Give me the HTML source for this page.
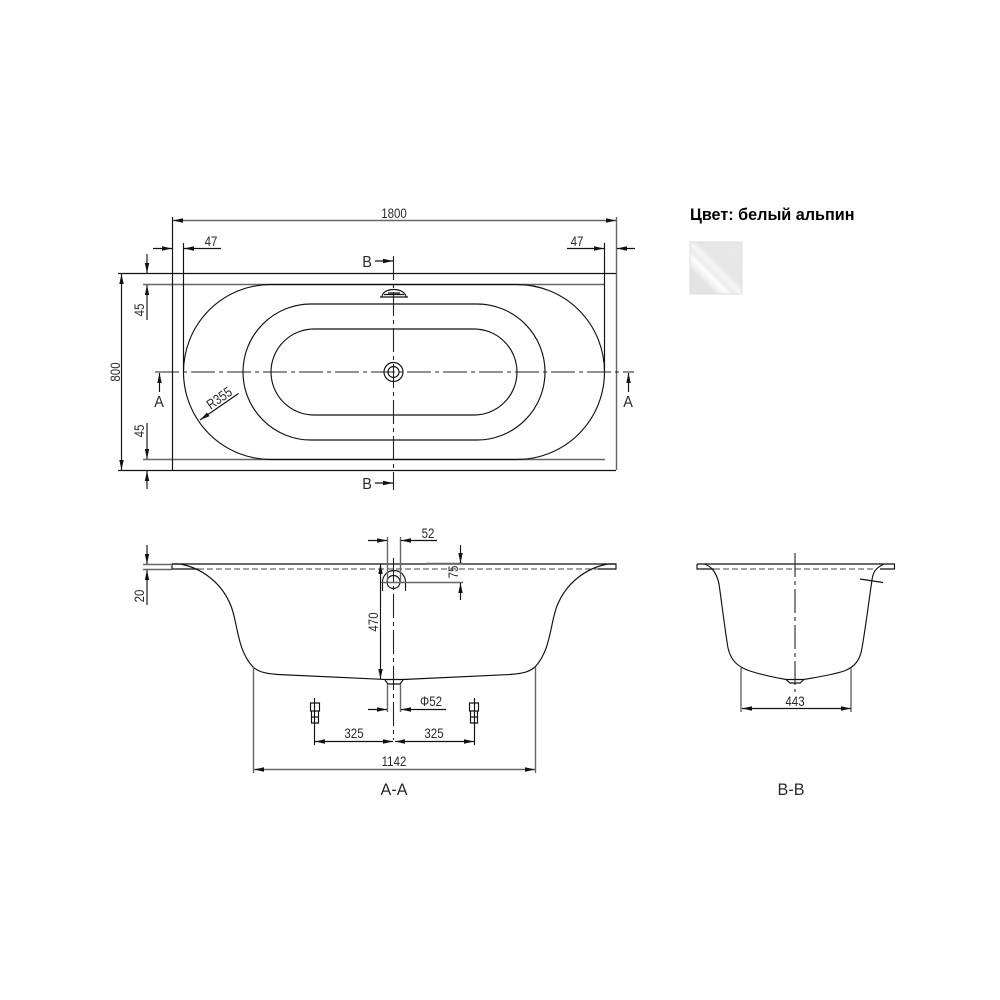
<!DOCTYPE html>
<html><head><meta charset="utf-8"><style>
html,body{margin:0;padding:0;background:#fff;width:1000px;height:1000px;overflow:hidden}
svg{display:block}
text{font-family:"Liberation Sans","Noto Sans CJK SC",sans-serif;fill:#2a2a2a;text-anchor:middle;font-size:14px}
.k{stroke:#111;stroke-width:1.15;fill:none}
.g{stroke:#666;stroke-width:1.4;fill:none}
.c{stroke:#222;stroke-width:1.1;fill:none;stroke-dasharray:24 4 4 4}
.d{stroke:#444;stroke-width:1.1;fill:none;stroke-dasharray:6 3}
.a{fill:#111;stroke:none}
</style></head><body>
<svg width="1000" height="1000" viewBox="0 0 1000 1000" xmlns="http://www.w3.org/2000/svg">
<defs>
<marker id="e" markerUnits="userSpaceOnUse" markerWidth="11" markerHeight="6" refX="10" refY="3" orient="auto"><path d="M0 0.8L10 3L0 5.2Z" class="a"/></marker>
<marker id="s" markerUnits="userSpaceOnUse" markerWidth="11" markerHeight="6" refX="0" refY="3" orient="auto"><path d="M10 0.8L0 3L10 5.2Z" class="a"/></marker>
<linearGradient id="sw" x1="0" y1="1" x2="1" y2="0">
<stop offset="0" stop-color="#e4e4e4"/><stop offset=".24" stop-color="#e3e3e3"/><stop offset=".36" stop-color="#fdfdfd"/><stop offset=".43" stop-color="#ececec"/><stop offset=".49" stop-color="#f6f6f6"/><stop offset=".58" stop-color="#e6e6e6"/><stop offset="1" stop-color="#e8e8e8"/>
</linearGradient>
</defs>

<!-- PLAN -->
<path class="k" d="M118 273.500H616M118 470.500H616"/>
<path class="g" d="M143 284.500H605M143 459.500H605"/>
<path class="k" d="M172.500 217V470"/>
<path class="g" d="M616.500 217V470"/>
<path class="k" d="M183.500 243V372M604.500 243V372"/>
<path class="k" d="M271 284.500H517A87.500 87.500 0 0 1 517 459.500H271A87.500 87.500 0 0 1 271 284.500Z"/>
<path class="k" d="M311 304H477A68 68 0 0 1 477 440H311A68 68 0 0 1 311 304Z"/>
<path class="k" d="M314 329H474A43 43 0 0 1 474 415H314A43 43 0 0 1 314 329Z"/>
<path class="c" d="M155 372H634"/>
<path class="c" d="M393.500 256V490"/>
<circle class="k" cx="393.500" cy="372" r="9.500"/><circle class="k" cx="393.500" cy="372" r="5.500"/>
<path class="k" d="M382 297C382 287 405 287 406 297M380 297H408M384 294.500H404M388 293H400" stroke-width="1.4"/>

<!-- 1800 -->
<path class="g" d="M173 220.500H616" marker-start="url(#s)" marker-end="url(#e)"/>
<text transform="translate(394,218) scale(.82,1)">1800</text>
<!-- 47 -->
<path class="k" d="M153 248.500H172" marker-end="url(#e)"/><path class="k" d="M184 248.500H221" marker-start="url(#s)"/>
<text transform="translate(211,246) scale(.82,1)">47</text>
<path class="k" d="M567 248.500H604" marker-end="url(#e)"/><path class="k" d="M617 248.500H635" marker-start="url(#s)"/>
<text transform="translate(577,246) scale(.82,1)">47</text>
<!-- 45 / 800 -->
<path class="k" d="M147 254V273" marker-end="url(#e)"/><path class="k" d="M147 285V320" marker-start="url(#s)"/>
<path class="k" d="M147 423V459" marker-end="url(#e)"/><path class="k" d="M147 471V489" marker-start="url(#s)"/>
<path class="k" d="M121.500 274V470" marker-start="url(#s)" marker-end="url(#e)"/>
<text transform="translate(144,310) rotate(-90) scale(.82,1)">45</text>
<text transform="translate(144,431) rotate(-90) scale(.82,1)">45</text>
<text transform="translate(120,372) rotate(-90) scale(.82,1)">800</text>
<!-- section marks -->
<path class="k" d="M159.500 373V392" marker-start="url(#s)"/><text transform="translate(159,407) scale(.9,1)" style="font-size:16px">A</text>
<path class="k" d="M628.500 373V392" marker-start="url(#s)"/><text transform="translate(628,407) scale(.9,1)" style="font-size:16px">A</text>
<text transform="translate(367,267) scale(.9,1)" style="font-size:16px">B</text><path class="k" d="M375 261H393" marker-end="url(#e)"/>
<text transform="translate(367,489) scale(.9,1)" style="font-size:16px">B</text><path class="k" d="M375 483H393" marker-end="url(#e)"/>
<!-- R355 -->
<path class="k" d="M238.500 393.500L200 420" marker-end="url(#e)"/>
<text transform="translate(222,402) rotate(-35) scale(.82,1)">R355</text>

<!-- SECTION A-A -->
<path class="k" d="M172 564H616V569H598M172 564V569H198"/>
<path class="d" d="M198 569H598"/>
<path class="k" d="M172 564H180C202 568 222 583 231 606C238 624 237 650 253 667C259 672 265 673.500 278 674.500L385 679.500H403L510 674.500C523 673.500 529 672 535 667C551 650 550 624 557 606C566 583 586 568 608 564H616"/>
<path class="g" d="M143 564.500H172M143 569.500H172"/>
<path class="k" d="M147 545V564" marker-end="url(#e)"/><path class="k" d="M147 570V605" marker-start="url(#s)"/>
<text transform="translate(144,596) rotate(-90) scale(.82,1)">20</text>
<!-- overflow -->
<path class="k" d="M382.500 591V582A11.500 11.500 0 0 1 405.500 582V591"/>
<circle class="k" cx="393.500" cy="582" r="6.500"/>
<path class="c" d="M393.500 558V740" stroke-dasharray="16 3 3 3"/>
<path class="g" d="M387.500 537V582M400.500 537V582M380 582.500H463M426 563.500H463"/>
<path class="k" d="M368 540.500H387" marker-end="url(#e)"/><path class="k" d="M401 540.500H437" marker-start="url(#s)"/>
<text transform="translate(428,538) scale(.82,1)">52</text>
<path class="k" d="M460.500 545V563" marker-end="url(#e)"/><path class="k" d="M460.500 583V600" marker-start="url(#s)"/>
<text transform="translate(458,572) rotate(-90) scale(.82,1)">75</text>
<path class="k" d="M380.500 564V679" marker-start="url(#s)" marker-end="url(#e)"/>
<text transform="translate(378,622) rotate(-90) scale(.82,1)">470</text>
<!-- drain -->
<path class="k" d="M385 680L388 684H400L403 680"/>
<path class="g" d="M387.500 684V712M400.500 684V712"/>
<path class="k" d="M368 709.500H387" marker-end="url(#e)"/><path class="k" d="M401 709.500H446" marker-start="url(#s)"/>
<text transform="translate(431,706) scale(.82,1)">Φ52</text>
<!-- feet -->
<path class="k" d="M469.500 703H478.500V711H477.500V723H470.500V711H469.500ZM470 711H478M470 717H478"/>
<path class="k" d="M310.500 703H319.500V711H318.500V723H311.500V711H310.500ZM311 711H319M311 717H319"/>
<path class="k" d="M474.500 698V745M314.500 698V745"/>
<path class="k" d="M315 741.500H393" marker-start="url(#s)" marker-end="url(#e)"/>
<path class="k" d="M395 741.500H474" marker-start="url(#s)" marker-end="url(#e)"/>
<text transform="translate(354,738) scale(.82,1)">325</text><text transform="translate(434,738) scale(.82,1)">325</text>
<path class="g" d="M253.500 667V773M535.500 667V773"/>
<path class="g" d="M254 769.500H535" marker-start="url(#s)" marker-end="url(#e)"/>
<text transform="translate(394,766) scale(.82,1)">1142</text>
<text transform="translate(394,795) scale(.95,1)" style="font-size:17px">A-A</text>

<!-- SECTION B-B -->
<path class="k" d="M697 564H894.500V569H880M697 564V569H714"/>
<path class="d" d="M714 569H874"/>
<path class="k" d="M704 564C712 566 717 574 719 584C722 605 725 630 728 648C731 661 738 667 750 671C762 675 772 677 786 679.500H804C818 677 832 675 844 671C855 667 860 660 862 648C866 625 869 600 872 580C873 570 878 567 884 564"/>
<path class="k" d="M786 679.500L790 683H800L804 679.500"/>
<path class="k" d="M860 579L883 582.500"/>
<path class="c" d="M795 553V692" stroke-dasharray="16 3 3 3"/>
<path class="g" d="M741 668V712M851 668V712"/>
<path class="k" d="M742 708.500H851" marker-start="url(#s)" marker-end="url(#e)"/>
<text transform="translate(795,706) scale(.82,1)">443</text>
<text transform="translate(791,795) scale(.95,1)" style="font-size:17px">B-B</text>

<!-- legend -->
<text x="690" y="220" style="font-size:16.200px;font-weight:bold;fill:#000;text-anchor:start">Цвет: белый альпин</text>
<rect x="690" y="242" width="52" height="52" fill="url(#sw)" stroke="#ddd"/>
</svg>
</body></html>
